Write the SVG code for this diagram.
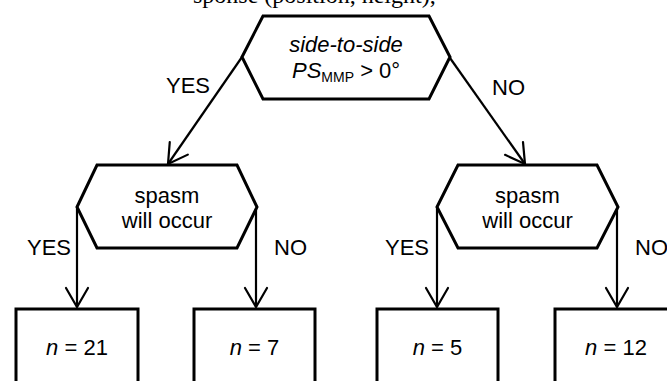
<svg xmlns="http://www.w3.org/2000/svg" width="667" height="381" viewBox="0 0 667 381">
<defs>
<marker id="arr" markerUnits="userSpaceOnUse" markerWidth="30" markerHeight="30" viewBox="-22 -15 30 30" refX="0" refY="0" orient="auto" overflow="visible">
<path d="M-19,-11 L0,0 L-19,11" fill="none" stroke="#000" stroke-width="2.2" stroke-linecap="round" stroke-linejoin="miter"/>
</marker>
<style>
.shape{fill:#fff;stroke:#000;stroke-width:3;stroke-linejoin:miter}
.t{font-family:"Liberation Sans",Arial,sans-serif;font-size:22px;fill:#000}
.c{text-anchor:middle}
.conn{stroke:#000;stroke-width:2.2;fill:none;marker-end:url(#arr)}
.cap{font-family:"Liberation Serif","Times New Roman",serif;font-size:24px;fill:#000}
</style>
</defs>
<rect width="667" height="381" fill="#fff"/>
<text class="cap" x="193" y="3">sponse (position, height),</text>
<g id="connectors">
<line class="conn" x1="242" y1="57" x2="168" y2="164"/>
<line class="conn" x1="450" y1="58" x2="525" y2="164"/>
<line class="conn" x1="77" y1="207" x2="77" y2="307"/>
<line class="conn" x1="256" y1="207" x2="256" y2="307"/>
<line class="conn" x1="437" y1="207" x2="437" y2="307"/>
<line class="conn" x1="617" y1="207" x2="617" y2="307"/>
<text class="t" x="166" y="93">YES</text>
<text class="t" x="492" y="95">NO</text>
<text class="t" x="27" y="255">YES</text>
<text class="t" x="274" y="255">NO</text>
<text class="t" x="385" y="255">YES</text>
<text class="t" x="635" y="255">NO</text>
</g>
<g id="root">
<polygon class="shape" points="242,57 263,16 429,16 450,57 429,99 263,99"/>
<text class="t c" x="346" y="52" font-style="italic">side-to-side</text>
<text class="t" x="292" y="78"><tspan font-style="italic">PS</tspan><tspan font-size="14" dy="4">MMP</tspan><tspan dy="-4"> &gt; 0°</tspan></text>
</g>
<g id="spasm-left">
<polygon class="shape" points="77,207 97,165 237,165 257,207 237,248 97,248"/>
<text class="t c" x="167" y="203">spasm</text>
<text class="t c" x="167" y="228">will occur</text>
</g>
<g id="spasm-right">
<polygon class="shape" points="437,207 458,165 597,165 618,207 597,248 458,248"/>
<text class="t c" x="527.5" y="203">spasm</text>
<text class="t c" x="527.5" y="228">will occur</text>
</g>
<g id="leaf1">
<rect class="shape" x="16" y="309" width="122" height="100"/>
<text class="t c" x="77" y="355"><tspan font-style="italic">n</tspan> = 21</text>
</g>
<g id="leaf2">
<rect class="shape" x="194" y="309" width="121" height="100"/>
<text class="t c" x="254.5" y="355"><tspan font-style="italic">n</tspan> = 7</text>
</g>
<g id="leaf3">
<rect class="shape" x="377" y="309" width="121" height="100"/>
<text class="t c" x="437.5" y="355"><tspan font-style="italic">n</tspan> = 5</text>
</g>
<g id="leaf4">
<rect class="shape" x="555" y="309" width="122" height="100"/>
<text class="t c" x="616" y="355"><tspan font-style="italic">n</tspan> = 12</text>
</g>
</svg>
